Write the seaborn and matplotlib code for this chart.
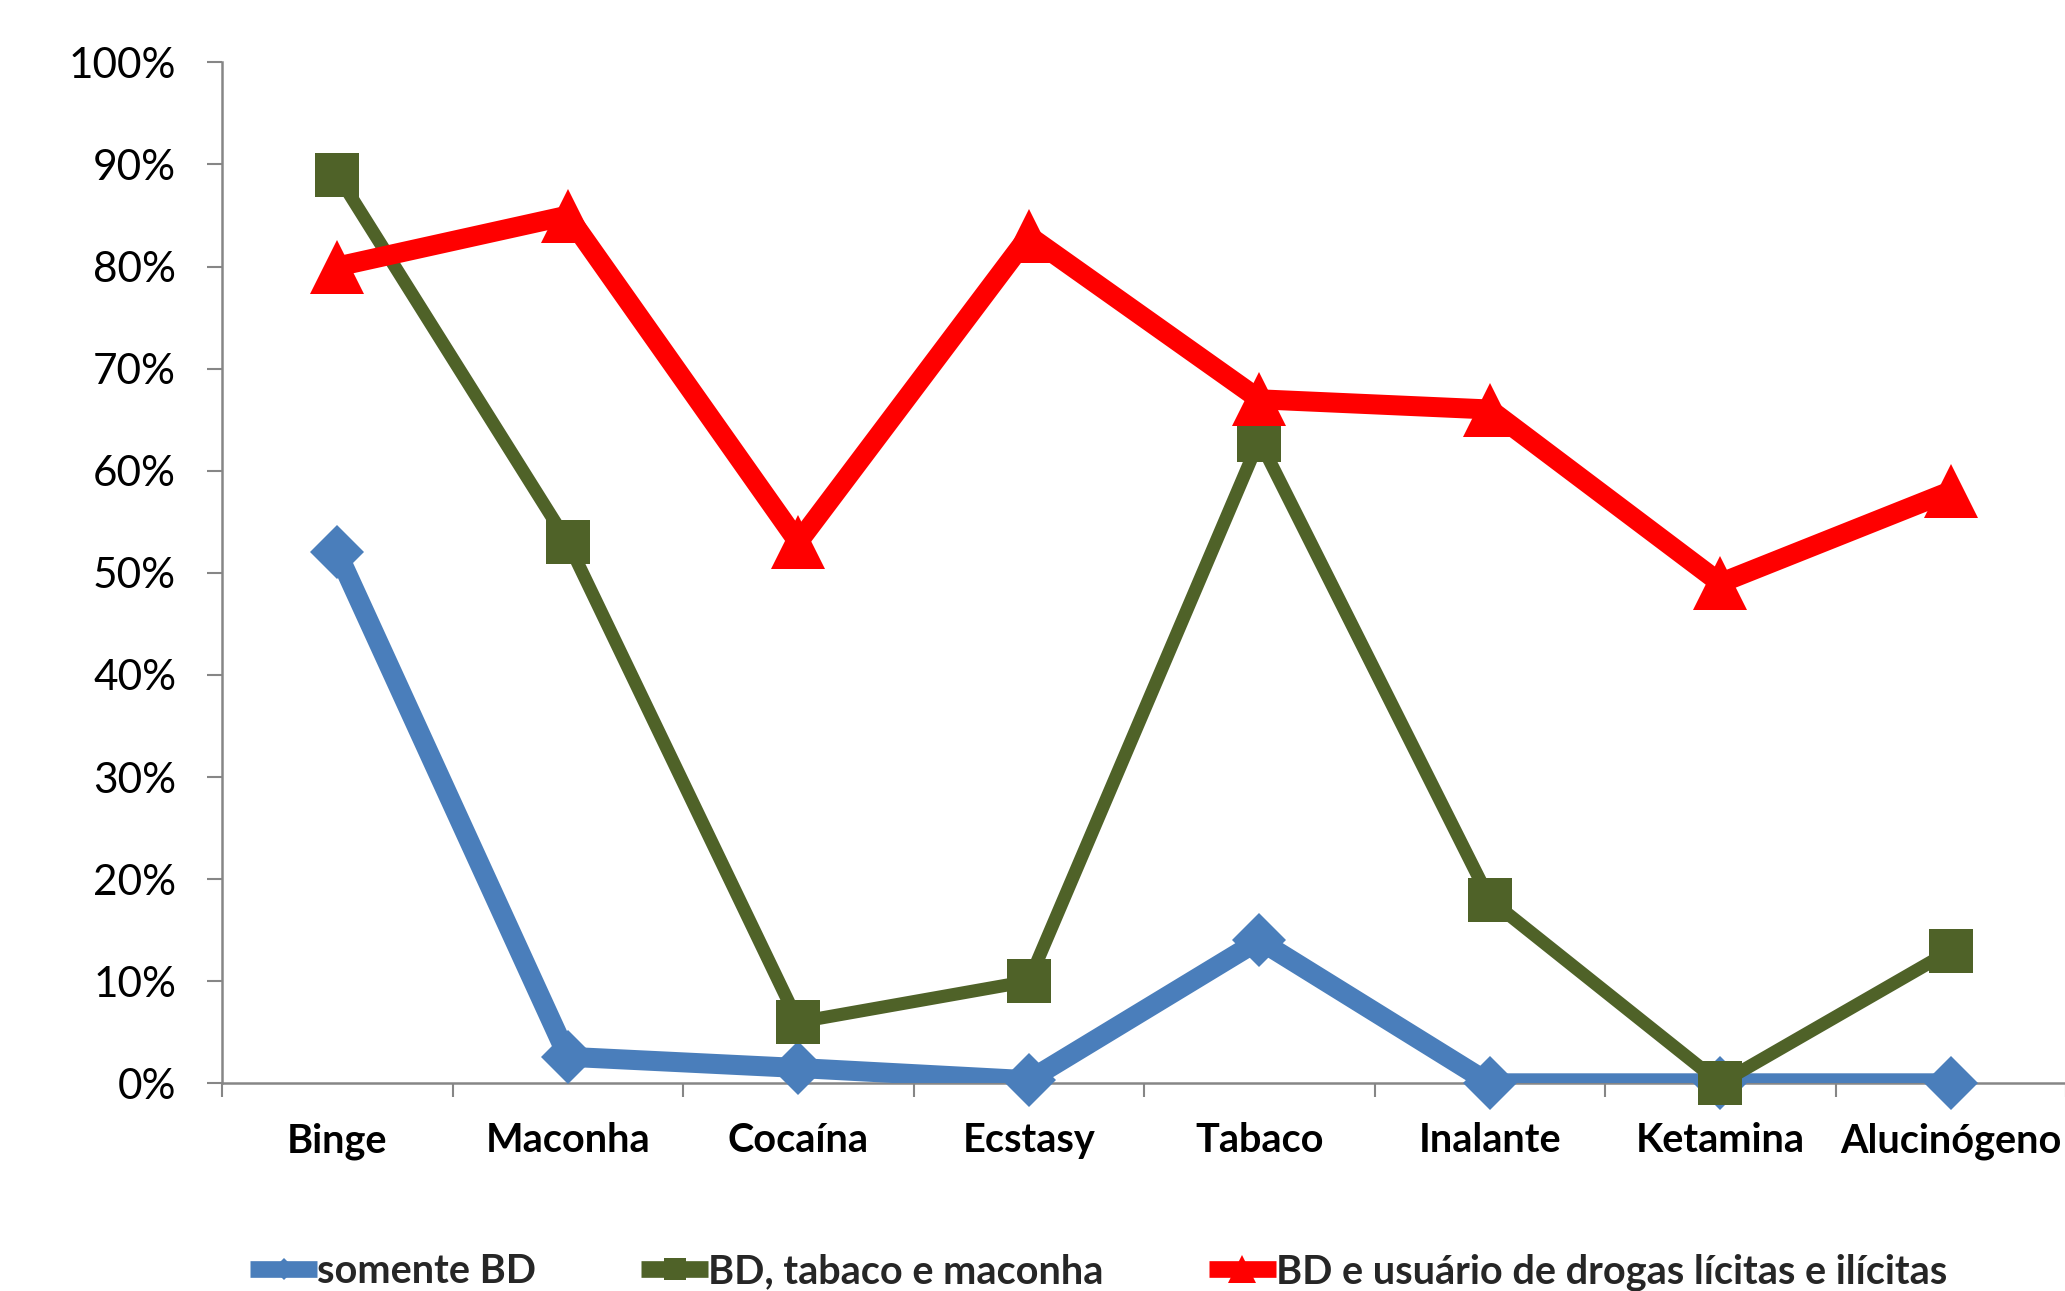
import matplotlib
matplotlib.use("Agg")
import matplotlib.pyplot as plt
from matplotlib.lines import Line2D
from matplotlib.ticker import FuncFormatter, FixedLocator
import seaborn as sns
import pandas as pd

# ---- data ----
categories = ["Binge", "Maconha", "Cocaína", "Ecstasy", "Tabaco", "Inalante", "Ketamina", "Alucinógeno"]
somente_bd = [52, 2.6, 1.5, 0.3, 14, 0, 0, 0]
bd_tabaco_maconha = [89, 53, 6, 10, 63, 18, 0, 13]
bd_drogas = [80, 85, 53, 83, 67, 66, 49, 58]
series_names = ["somente BD", "BD, tabaco e maconha", "BD e usuário de drogas lícitas e ilícitas"]
y_ticks = [0, 10, 20, 30, 40, 50, 60, 70, 80, 90, 100]

sns.set_theme(style="white")
plt.rcParams["font.family"] = ["Lato", "DejaVu Sans"]

W, H = 2065, 1291
fig = plt.figure(figsize=(W / 100, H / 100), dpi=100)
ax = fig.add_axes([222 / W, (H - 1083.3) / H, (2066 - 222) / W, (1083.3 - 62.4) / H])

styles = [
    dict(color="#4A7EBB", lw=14.4, marker="D", ms=27, lms=11),
    dict(color="#4F6228", lw=9.4, marker="s", ms=31, lms=16),
    dict(color="#FF0000", lw=14.4, marker="^", ms=39, lms=20),
]
values = [somente_bd, bd_tabaco_maconha, bd_drogas]

handles = []
for i, (name, vals, st) in enumerate(zip(series_names, values, styles)):
    df = pd.DataFrame({"cat": categories, "val": vals})
    # line (clipped to plot area)
    sns.lineplot(data=df, x="cat", y="val", ax=ax, color=st["color"], linewidth=st["lw"],
                 solid_joinstyle="round", solid_capstyle="butt", sort=False,
                 zorder=3 + 2 * i, legend=False)
    # markers (not clipped)
    sns.lineplot(data=df, x="cat", y="val", ax=ax, color=st["color"], linestyle="",
                 marker=st["marker"], markersize=st["ms"], markeredgewidth=0,
                 sort=False, zorder=4 + 2 * i, clip_on=False, legend=False)
    handles.append(Line2D([], [], color=st["color"], lw=12, marker=st["marker"],
                          markersize=st["lms"], markeredgewidth=0,
                          solid_capstyle="butt", label=name))

ax.set_xlim(-0.5, len(categories) - 0.5)
ax.set_ylim(0, 100)
ax.set_xlabel("")
ax.set_ylabel("")

ax.yaxis.set_major_locator(FixedLocator(y_ticks))
ax.yaxis.set_major_formatter(FuncFormatter(lambda v, p: f"{v:.0f}%"))
ax.tick_params(axis="y", which="major", length=11, width=1.5, color="#868686",
               direction="out", left=True, pad=22, labelsize=30.5, labelcolor="black")

ax.set_xticks(range(len(categories)))
ax.set_xticklabels(categories, fontweight="bold")
ax.tick_params(axis="x", which="major", length=0, pad=28, labelsize=28.5, labelcolor="black")
ax.xaxis.set_minor_locator(FixedLocator([k - 0.5 for k in range(len(categories) + 1)]))
ax.tick_params(axis="x", which="minor", length=10, width=1.5, color="#868686",
               direction="out", bottom=True)

for s in ["top", "right"]:
    ax.spines[s].set_visible(False)
for s in ["left", "bottom"]:
    ax.spines[s].set_color("#868686")
    ax.spines[s].set_linewidth(1.8)
ax.grid(False)

fig.legend(handles=handles, loc="center left", bbox_to_anchor=(250 / W, (H - 1272) / H),
           ncol=3, frameon=False, handlelength=1.7, handletextpad=0.0,
           columnspacing=2.65, borderpad=0, borderaxespad=0,
           prop=dict(family=["Lato", "DejaVu Sans"], weight="bold", size=28.5))

fig.savefig("out.png", dpi=100, facecolor="white")
